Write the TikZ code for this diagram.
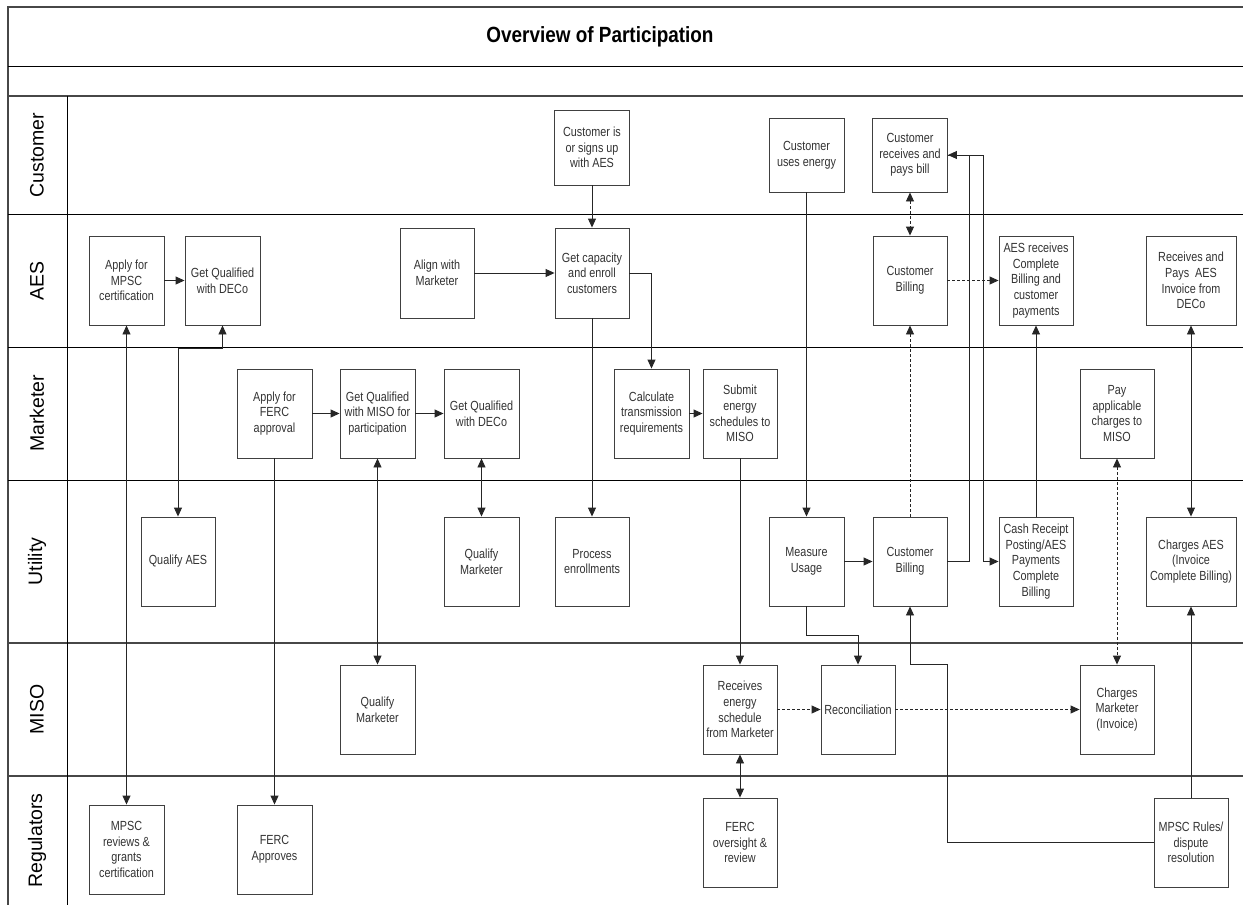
\documentclass[tikz,border=0pt]{standalone}
\usepackage{fontspec}
\setmainfont{Liberation Sans}
\newfontfamily\narrowfont[FakeStretch=0.82]{Liberation Sans}
\newfontfamily\titlefont[FakeStretch=0.86]{Liberation Sans}
\usetikzlibrary{arrows.meta,calc}
\begin{document}
\begin{tikzpicture}[x=1pt,y=-1pt,
  box/.style={draw=black!75, line width=0.9pt, fill=white, minimum width=75pt, minimum height=89pt, inner sep=1pt, align=center, font=\narrowfont\fontsize{13.2}{15.6}\selectfont, text=black!80},
  arr/.style={-{Triangle[length=9pt,width=8pt]}, line width=0.9pt, draw=black!85},
  darr/.style={{Triangle[length=9pt,width=8pt]}-{Triangle[length=9pt,width=8pt]}, line width=0.9pt, draw=black!85},
  dsh/.style={dash pattern=on 3pt off 2pt},
  lanelabel/.style={rotate=90, font=\fontsize{19.5}{22}\selectfont, text=black},
  sep/.style={line width=1pt, draw=black},
  heavysep/.style={line width=1.7pt, draw=black!72}
]
\useasboundingbox (0,0) rectangle (1243,905);

% frame and lanes
\draw[heavysep] (8,905) -- (8,7) -- (1243,7);
\draw[sep] (8,66) -- (1243,66);
\draw[heavysep] (8,96) -- (1243,96);
\draw[sep] (8,214) -- (1243,214);
\draw[sep] (8,347) -- (1243,347);
\draw[sep] (8,480) -- (1243,480);
\draw[heavysep] (8,643) -- (1243,643);
\draw[heavysep] (8,776) -- (1243,776);
\draw[sep] (67,96) -- (67,905);

\node[font=\titlefont\bfseries\fontsize{22}{25}\selectfont] (title) at (600,37) {Overview of Participation};

\node[lanelabel] (lcust) at (37,155) {Customer};
\node[lanelabel] (laes) at (37,280.5) {AES};
\node[lanelabel] (lmkt) at (37,413.5) {Marketer};
\node[lanelabel] (lutil) at (37,561.5) {Utility};
\node[lanelabel] (lmiso) at (37,709.5) {MISO};
\node[lanelabel] (lreg) at (37,840.5) {Regulators};

% Customer lane
\node[box, minimum height=75pt] (custsign) at (592,147.5) {Customer is\\or signs up\\with AES};
\node[box, minimum height=74pt] (custuse) at (806.5,155) {Customer\\uses energy};
\node[box, minimum height=74pt] (custpay) at (910,155) {Customer\\receives and\\pays bill};

% AES lane
\node[box] (mpscapply) at (126.5,280.5) {Apply for\\MPSC\\certification};
\node[box] (aesdeco) at (222.5,280.5) {Get Qualified\\with DECo};
\node[box, minimum width=74pt, minimum height=90pt] (align) at (437,273) {Align with\\Marketer};
\node[box, minimum width=74pt, minimum height=90pt] (getcap) at (592,273) {Get capacity\\and enroll\\customers};
\node[box, minimum width=74pt] (aesbill) at (910,280.5) {Customer\\Billing};
\node[box, minimum width=74pt] (aesrecv) at (1036,280.5) {AES receives\\Complete\\Billing and\\customer\\payments};
\node[box, minimum width=90pt] (aespay) at (1191,280.5) {Receives and\\Pays~ AES\\Invoice from\\DECo};

% Marketer lane
\node[box] (fercapply) at (274.5,413.5) {Apply for\\FERC\\approval};
\node[box] (mkmiso) at (377.5,413.5) {Get Qualified\\with MISO for\\participation};
\node[box] (mkdeco) at (481.5,413.5) {Get Qualified\\with DECo};
\node[box] (calc) at (651.5,413.5) {Calculate\\transmission\\requirements};
\node[box, minimum width=74pt] (submit) at (740,413.5) {Submit\\energy\\schedules to\\MISO};
\node[box, minimum width=74pt] (payapp) at (1117,413.5) {Pay\\applicable\\charges to\\MISO};

% Utility lane
\node[box, minimum width=74pt] (qaes) at (178,561.5) {Qualify AES};
\node[box] (utqm) at (481.5,561.5) {Qualify\\Marketer};
\node[box, minimum width=74pt] (proc) at (592,561.5) {Process\\enrollments};
\node[box] (meas) at (806.5,561.5) {Measure\\Usage};
\node[box, minimum width=74pt] (utbill) at (910,561.5) {Customer\\Billing};
\node[box, minimum width=74pt] (cash) at (1036,561.5) {Cash Receipt\\Posting/AES\\Payments\\Complete\\Billing};
\node[box, minimum width=90pt] (chaes) at (1191,561.5) {Charges AES\\(Invoice\\Complete Billing)};

% MISO lane
\node[box] (misoqm) at (377.5,709.5) {Qualify\\Marketer};
\node[box, minimum width=74pt] (recv) at (740,709.5) {Receives\\energy\\schedule\\from Marketer};
\node[box, minimum width=74pt] (recon) at (858,709.5) {Reconciliation};
\node[box, minimum width=74pt] (chmk) at (1117,709.5) {Charges\\Marketer\\(Invoice)};

% Regulators lane
\node[box] (mpscrev) at (126.5,849.5) {MPSC\\reviews \&\\grants\\certification};
\node[box] (fercapp) at (274.5,849.5) {FERC\\Approves};
\node[box, minimum width=74pt] (fercov) at (740,842.5) {FERC\\oversight \&\\review};
\node[box, minimum width=74pt] (mpscrules) at (1191,842.5) {MPSC Rules/\\dispute\\resolution};

% connectors
\draw[arr] (mpscapply) -- (aesdeco);
\draw[darr] (mpscapply.south) -- (mpscrev.north);
\draw[darr] (aesdeco.south) -- ++(0,23) -| (qaes.north);
\draw[arr] (fercapply) -- (mkmiso);
\draw[arr] (fercapply.south) -- (fercapp.north);
\draw[darr] (mkmiso.south) -- (misoqm.north);
\draw[arr] (mkmiso) -- (mkdeco);
\draw[darr] (mkdeco.south) -- (utqm.north);
\draw[arr] (custsign.south) -- (getcap.north);
\draw[arr] (align) -- (getcap);
\draw[arr] (getcap.south) -- (proc.north);
\draw[arr] (getcap.east) -| (calc.north);
\draw[arr] (calc) -- (submit);
\draw[arr] (submit.south) -- (recv.north);
\draw[darr] (recv.south) -- (fercov.north);
\draw[arr, dsh] (recv) -- (recon);
\draw[arr] (custuse.south) -- (meas.north);
\draw[arr] (meas) -- (utbill);
\draw[arr] (meas.south) -- ++(0,29) -| (recon.north);
\draw[arr] (utbill.east) -- ++(22,0) |- (custpay.east);
\draw[arr] (custpay.east) -- ++(35,0) |- (cash.west);
\draw[darr, dsh] (custpay.south) -- (aesbill.north);
\draw[arr, dsh] (aesbill) -- (aesrecv);
\draw[arr, dsh] (utbill.north) -- (aesbill.south);
\draw[arr] (cash.north) -- (aesrecv.south);
\draw[darr] (aespay.south) -- (chaes.north);
\draw[darr, dsh] (payapp.south) -- (chmk.north);
\draw[arr, dsh] (recon) -- (chmk);
\draw[arr] (mpscrules.north) -- (chaes.south);
\coordinate (bend) at ($(utbill.south)+(37,58)$);
\draw[arr] (mpscrules.west) -| (bend) -| (utbill.south);
\end{tikzpicture}
\end{document}
